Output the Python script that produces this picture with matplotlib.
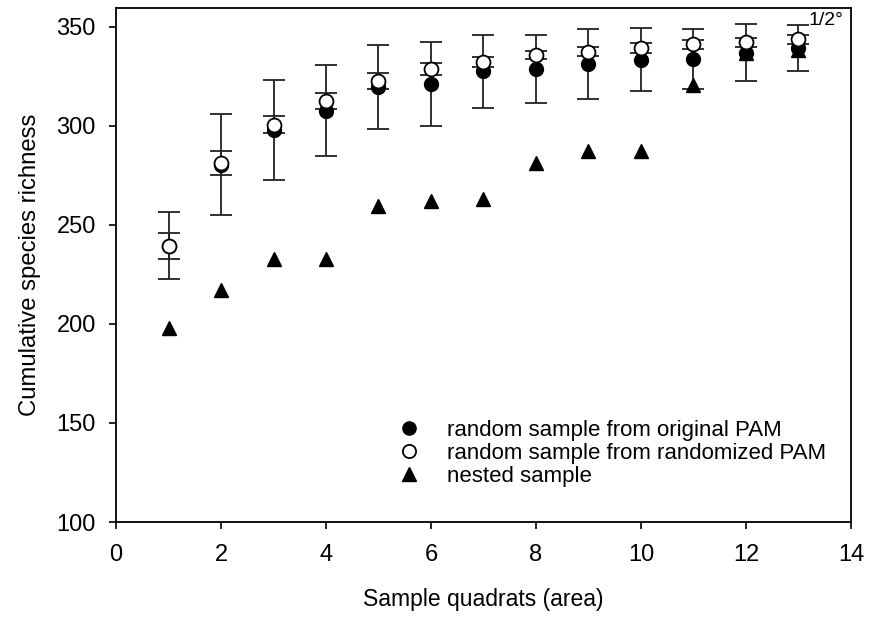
import numpy as np
import matplotlib
matplotlib.use("Agg")
import matplotlib.pyplot as plt

plt.rcParams['font.family'] = ['Liberation Sans', 'DejaVu Sans']

##### data
quadrats = [1, 2, 3, 4, 5, 6, 7, 8, 9, 10, 11, 12, 13]
orig_mean = [239.5, 280.5, 298.0, 307.7, 319.7, 321.0, 327.5, 328.8, 331.3, 333.5, 333.8, 337.0, 339.3]
orig_sd = [17.0, 25.5, 25.3, 23.0, 21.0, 21.2, 18.6, 17.2, 17.7, 15.8, 15.0, 14.5, 11.8]
rand_mean = [239.4, 281.2, 300.6, 312.7, 322.8, 328.8, 332.2, 335.7, 337.4, 339.4, 341.3, 342.2, 343.8]
rand_sd = [6.6, 6.0, 4.2, 3.9, 3.9, 3.0, 2.4, 2.1, 2.3, 2.5, 2.3, 2.1, 2.2]
nested = [197.8, 217.4, 232.6, 232.6, 259.4, 262.3, 263.2, 281.3, 287.1, 287.1, 320.8, 336.7, 338.5]

labels = ["random sample from original PAM",
          "random sample from randomized PAM",
          "nested sample"]

##### plot
fig = plt.figure(figsize=(8.71, 6.23), dpi=100)
ax = fig.add_axes([0.1332, 0.1621, 0.977 - 0.1332, 0.987 - 0.1621])

ax.errorbar(quadrats, orig_mean, yerr=orig_sd, fmt='none', ecolor='#222222',
            elinewidth=1.3, capsize=8, capthick=1.3, zorder=1)
ax.errorbar(quadrats, rand_mean, yerr=rand_sd, fmt='none', ecolor='#222222',
            elinewidth=1.3, capsize=8, capthick=1.3, zorder=1)

h3, = ax.plot(quadrats, nested, linestyle='none', marker='^', ms=10,
              color='black', zorder=2)
h1, = ax.plot(quadrats, orig_mean, linestyle='none', marker='o', ms=10,
              color='black', zorder=3)
h2, = ax.plot(quadrats, rand_mean, linestyle='none', marker='o', ms=10,
              markerfacecolor='white', markeredgecolor='black', mew=1.3, zorder=4)

ax.set_xlim(0, 14)
ax.set_ylim(100, 359.5)
ax.set_xticks(range(0, 15, 2))
ax.set_yticks(range(100, 351, 50))
ax.tick_params(direction='out', length=5, width=1.2, labelsize=17)
ax.tick_params(axis='x', pad=10.5)
ax.tick_params(axis='y', pad=9.5)
for s in ax.spines.values():
    s.set_linewidth(1.3)

ax.set_xlabel("Sample quadrats (area)", fontsize=16.5, labelpad=16)
ax.set_ylabel("Cumulative species richness", fontsize=17.2, labelpad=11)

ax.text(0.989, 0.992, "1/2°", transform=ax.transAxes, ha='right', va='top', fontsize=14)

leg = ax.legend([h1, h2, h3], labels, loc='lower left', bbox_to_anchor=(0.341, 0.029),
                frameon=False, fontsize=16, handletextpad=0.72, labelspacing=0.1,
                markerscale=0.95)

fig.savefig("out.png", dpi=100)
